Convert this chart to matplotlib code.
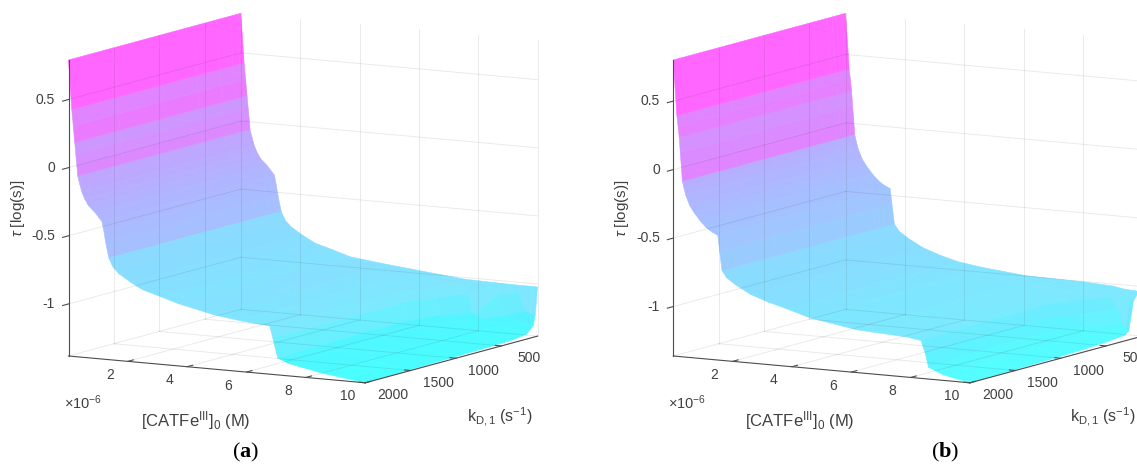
import matplotlib
matplotlib.use('Agg')
import matplotlib.pyplot as plt
import numpy as np
from mpl_toolkits.mplot3d import proj3d

W, H = 1137, 465

# ---- values ----
x_head_a = [0, .11, .16, .21, .245, .28, .31, .38, .45, .55, .67, .9, 1.13, 1.19, 1.25, 1.36, 1.5, 1.7, 2.1, 2.5, 3.1, 3.7]
z_head_a = [.79, .43, .31, .19, .105, .025, -.055, -.115, -.17, -.22, -.265, -.313, -.375, -.44, -.52, -.637, -.70, -.745, -.80, -.847, -.885, -.925]
c_head_a = [1, .80, .86, .68, .72, .77, .58, .56, .54, .52, .50, .48, .46, .44, .42, .24, .23, .22, .21, .20, .19]
y_rows_a = [100, 125, 150, 220, 370, 620, 1000, 1500, 2000]
x_tail_a = [
    [4.9, 5.8, 7.5, 8.5, 9.0, 9.5, 9.8, 10],
    [4.9, 5.8, 7.5, 9.3, 9.45, 9.7, 9.85, 10],
    [4.9, 5.8, 7.5, 8.7, 8.85, 9.1, 9.5, 10],
    [4.9, 5.8, 7.9, 8.0, 8.2, 8.5, 9.2, 10],
    [4.9, 5.8, 7.3, 7.4, 7.55, 7.9, 8.9, 10],
    [4.9, 5.8, 6.95, 7.05, 7.2, 7.6, 8.7, 10],
    [4.9, 5.8, 6.85, 6.95, 7.1, 7.5, 8.6, 10],
    [4.9, 5.8, 6.85, 6.95, 7.1, 7.5, 8.6, 10],
    [4.9, 5.8, 6.78, 6.88, 7.05, 7.4, 8.5, 10],
]
z_tail_a = [
    [-.955, -.975, -1.012, -1.018, -1.02, -1.021, -1.021, -1.022],
    [-.955, -.98, -1.015, -1.025, -1.07, -1.2, -1.215, -1.22],
    [-.957, -.982, -1.015, -1.03, -1.09, -1.24, -1.27, -1.30],
    [-.96, -.985, -1.03, -1.09, -1.23, -1.265, -1.30, -1.345],
    [-.965, -.99, -1.03, -1.10, -1.23, -1.265, -1.31, -1.36],
    [-.97, -.995, -1.03, -1.10, -1.235, -1.27, -1.315, -1.365],
    [-.975, -1.0, -1.03, -1.11, -1.24, -1.278, -1.325, -1.37],
    [-.98, -1.006, -1.03, -1.11, -1.25, -1.283, -1.33, -1.375],
    [-.983, -1.01, -1.028, -1.11, -1.258, -1.29, -1.338, -1.382],
]

# ---- values ----
x_head_b = [0, .12, .16, .2, .235, .27, .305, .36, .42, .55, .7, .9, 1.1, 1.3, 1.5, 1.56, 1.64, 1.8, 2.1, 2.6, 3.2, 3.8]
z_head_b = [.80, .397, .32, .24, .13, .03, -.078, -.13, -.18, -.25, -.30, -.355, -.40, -.43, -.45, -.56, -.705, -.755, -.80, -.86, -.905, -.94]
c_head_b = [1, .80, .83, .72, .76, .80, .52, .50, .48, .46, .44, .42, .41, .40, .38, .34, .24, .23, .22, .21, .20]
y_rows_b = [100, 140, 200, 250, 300, 450, 660, 1000, 1400, 2000]
x_tail_b = [
    [4.6, 6.1, 8.07, 9.0, 9.4, 9.76, 9.9, 10],
    [4.6, 6.2, 8.0, 9.0, 9.6, 9.8, 9.9, 10],
    [4.6, 6.2, 8.0, 9.0, 9.6, 9.8, 9.9, 10],
    [4.6, 6.2, 8.0, 9.4, 9.6, 9.8, 9.9, 10],
    [4.6, 6.2, 8.0, 9.2, 9.4, 9.6, 9.8, 10],
    [4.6, 6.2, 8.0, 8.7, 8.95, 9.1, 9.5, 10],
    [4.6, 6.2, 7.9, 8.35, 8.55, 8.7, 9.2, 10],
    [4.6, 6.2, 7.85, 8.3, 8.45, 8.6, 9.15, 10],
    [4.6, 6.2, 7.85, 8.3, 8.45, 8.55, 9.1, 10],
    [4.6, 6.2, 7.85, 8.35, 8.5, 8.6, 9.1, 10],
]
z_tail_b = [
    [-.965, -.997, -1.005, -1.015, -1.03, -1.035, -1.04, -1.042],
    [-.968, -1.0, -1.02, -1.03, -1.03, -1.03, -1.03, -1.03],
    [-.972, -1.005, -1.035, -1.045, -1.055, -1.065, -1.08, -1.09],
    [-.975, -1.012, -1.042, -1.06, -1.13, -1.25, -1.285, -1.30],
    [-.975, -1.015, -1.045, -1.06, -1.15, -1.245, -1.27, -1.32],
    [-.978, -1.02, -1.05, -1.07, -1.16, -1.25, -1.29, -1.33],
    [-.98, -1.025, -1.05, -1.07, -1.16, -1.25, -1.30, -1.34],
    [-.982, -1.03, -1.055, -1.08, -1.165, -1.255, -1.305, -1.347],
    [-.985, -1.04, -1.06, -1.08, -1.17, -1.26, -1.31, -1.352],
    [-.992, -1.049, -1.068, -1.085, -1.18, -1.275, -1.32, -1.361],
]

x_ticks = [2, 4, 6, 8, 10]
y_ticks = [500, 1000, 1500, 2000]
z_ticks = [-1, -.5, 0, .5]
z_tick_labels = ['-1', '-0.5', '0', '0.5']

plt.rcParams['font.family'] = 'Liberation Sans'
plt.rcParams['mathtext.fontset'] = 'custom'
plt.rcParams['mathtext.rm'] = 'Liberation Sans'
plt.rcParams['mathtext.it'] = 'Liberation Sans:italic'
plt.rcParams['mathtext.bf'] = 'Liberation Serif:bold'

fig = plt.figure(figsize=(W / 100, H / 100), dpi=100)
TXT = '#404040'


def put(px, py, s, **kw):
    fig.text(px / W, 1 - py / H, s, **kw)


def screen(ax, x, y, z):
    ax.apply_aspect()
    u, v, _ = proj3d.proj_transform(x, y, z, ax.get_proj())
    return ax.transData.transform((u, v))


def panel(x0, zlim, x_head, z_head, c_head, y_rows, x_tail, z_tail, bright, top_px=60, floor_px=356):
    L = 620
    ax = fig.add_axes([(x0 - 100) / W, 0, L / W, L / H], projection='3d', computed_zorder=False)
    ax.set_proj_type('ortho')
    ax.view_init(elev=9, azim=-60)
    ax.set_autoscale_on(False)
    ax.set_xlim(0, 10)
    ax.set_ylim(2000, 100)
    ax.set_zlim(*zlim)
    ax.set_axis_off()
    zmin, ztop = zlim
    ymin, ymax = 100, 2000

    # surface, one row of x / tau per k_D,1 value
    X = np.array([list(x_head) + row for row in x_tail])
    Z = np.array([list(z_head) + row for row in z_tail])
    Y = np.array([[y] * X.shape[1] for y in y_rows], dtype=float)
    c = np.zeros(Z.shape)
    c[:, :len(c_head)] = c_head
    n = len(c_head)
    zmid = (Z[:, n:-1] + Z[:, n + 1:]) / 2
    c[:, n:-1] = (zmid - zmin) / (ztop - zmin)
    c[:, -1] = c[:, -2]
    # transparency over white, the low plateau is seen on top of the surface behind it
    a = np.full(Z.shape, 0.6)
    a[:, n:-1] = np.where(zmid < -1.2, bright, np.where(zmid < -1.08, 0.65, 0.6))
    a[:, -1] = a[:, -2]
    rgb = plt.get_cmap('cool')(np.clip(c, 0, 1))
    rgb[..., :3] = rgb[..., :3] * a[..., None] + (1 - a[..., None])
    ax.plot_surface(X, Y, Z, facecolors=rgb, rstride=1, cstride=1, shade=False,
                    antialiased=True, linewidth=0.4, zorder=1)

    # back wall, left wall and floor grid, showing through the surface
    grid = dict(color=(.15, .15, .15, .10), lw=0.65, zorder=2)
    dark = dict(color='#4d4d4d', lw=0.8, zorder=3)
    for x in x_ticks:
        ax.plot([x, x], [ymin, ymin], [zmin, ztop], **grid)
        ax.plot([x, x], [ymin, ymax], [zmin, zmin], **grid)
    for y in y_ticks[:-1]:
        ax.plot([0, 0], [y, y], [zmin, ztop], **grid)
        ax.plot([0, 10], [y, y], [zmin, zmin], **grid)
    for z in z_ticks:
        ax.plot([0, 10], [ymin, ymin], [z, z], **grid)
        ax.plot([0, 0], [ymin, ymax], [z, z], **grid)
    ax.plot([0, 10], [ymin, ymin], [zmin, zmin], **grid)
    ax.plot([0, 0], [ymin, ymax], [zmin, zmin], **grid)
    ax.plot([0, 0], [ymin, ymin], [zmin, ztop], **grid)

    # axis lines and ticks
    ax.plot([0, 0], [ymax, ymax], [zmin, ztop], **dark)
    ax.plot([0, 10], [ymax, ymax], [zmin, zmin], **dark)
    ax.plot([10, 10], [ymin, ymax], [zmin, zmin], **dark)
    for x in x_ticks:
        ax.plot([x, x], [ymax, ymax - 60], [zmin, zmin], **dark)
    for y in y_ticks:
        ax.plot([10, 9.8], [y, y], [zmin, zmin], **dark)
    for z in z_ticks:
        ax.plot([0, 0], [ymax, ymax + 65], [z, z], **dark)

    # fit the box to the pixels of the reference
    ax.set_box_aspect((343, 345, 300))
    p0 = screen(ax, 0, ymax, zmin)
    p1 = screen(ax, 0, ymax, ztop)
    zoom = (floor_px - top_px) / (p1[1] - p0[1])
    ax.set_box_aspect((343, 345, 300), zoom=zoom)
    p0 = screen(ax, 0, ymax, zmin)
    pos = ax.get_position()
    ax.set_position([pos.x0 + (x0 - p0[0]) / W, pos.y0 + ((H - floor_px) - p0[1]) / H, pos.width, pos.height])

    # tick labels, placed from the projected tick positions
    tick = dict(va='center', fontsize=10, color=TXT)
    for x in x_ticks:
        p = screen(ax, x, ymax, zmin)
        put(p[0] - 18, H - p[1] + 13.5, str(x), ha='center', **tick)
    for y in y_ticks:
        p = screen(ax, 10, y, zmin)
        put(p[0] + 27.5, H - p[1] + 12.5, str(y), ha='center', **tick)
    for z, s in zip(z_ticks, z_tick_labels):
        p = screen(ax, 0, ymax, z)
        put(p[0] - 13.5, H - p[1], s, ha='right', **tick)
    return ax


panel(68.5, (-1.382, .79), x_head_a, z_head_a, c_head_a, y_rows_a, x_tail_a, z_tail_a, 0.72)
panel(673.3, (-1.361, .80), x_head_b, z_head_b, c_head_b, y_rows_b, x_tail_b, z_tail_b, 0.68)

xlabel = '[CATFe$^{\\mathrm{III}}$]$_{\\mathrm{0}}$ (M)'
ylabel = 'k$_{\\mathrm{D,1}}$ (s$^{\\mathrm{-1}}$)'
zlabel = '$\\tau$ [log(s)]'
scale = '×10$^{\\mathrm{-6}}$'
for xl, yl, tl, sc, cap, capx in [
    (196, 500, 18, 64, '($\\mathbf{a}$)', 246),
    (800, 1103, 622, 668, '($\\mathbf{b}$)', 945),
]:
    put(xl, 421, xlabel, ha='center', va='center', fontsize=12, color=TXT)
    put(yl, 416, ylabel, ha='center', va='center', fontsize=11.5, color=TXT)
    put(tl, 208, zlabel, ha='center', va='center', rotation=90, fontsize=11, color=TXT)
    put(sc, 403, scale, ha='left', va='center', fontsize=10.5, color=TXT)
    put(capx, 452, cap, ha='center', va='center', fontsize=16, family='Liberation Serif', color='black')

fig.savefig('out.png', dpi=100)
